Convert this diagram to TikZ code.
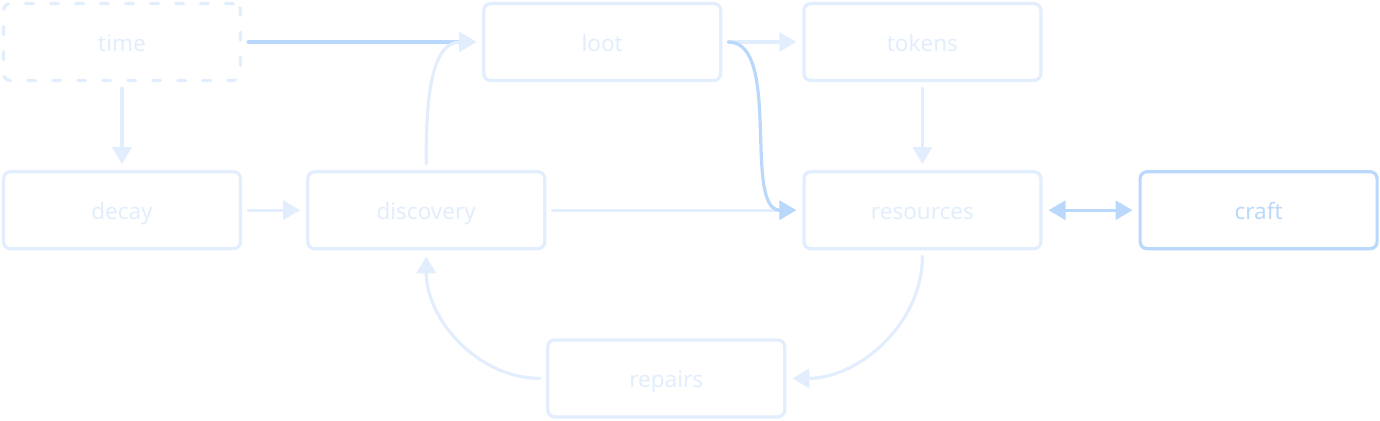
\documentclass[tikz,border=0pt]{standalone}
\usepackage{fontspec}
\setmainfont{Noto Sans}
\usepackage{tikz}
\usetikzlibrary{arrows.meta,positioning}
\definecolor{paleline}{HTML}{E2EEFD}
\definecolor{boldline}{HTML}{BAD8FB}
\tikzset{
  % ---- boxes ----------------------------------------------------------
  mnode/.style={
    draw=paleline, line width=3.2pt, rounded corners=7pt, fill=white,
    minimum width=237pt, minimum height=77pt, align=center,
    text height=19pt, text depth=0pt,
    text=paleline, font=\fontsize{22.5}{26}\selectfont},
  mdashed/.style={mnode, dash pattern=on 8pt off 17pt, line cap=round},
  mstrong/.style={mnode, draw=boldline, text=boldline},
  % ---- connections ----------------------------------------------------
  mflow/.style={
    -{Triangle[length=17pt,width=19pt]}, draw=paleline, line width=3.2pt,
    line cap=round, shorten <=6pt, shorten >=6pt},
  mlink/.style={mflow, draw=boldline},
}
\begin{document}
\begin{tikzpicture}[x=1pt, y=-1pt]
\useasboundingbox (0,0) rectangle (1380,420);

% ---------------- top row --------------------------------------------
\node[mdashed] (time) at (122,42) {time};
\node[mnode, right=240pt of time] (loot) {loot};
\node[mnode, right=80pt of loot] (tokens) {tokens};

% ---------------- middle row -----------------------------------------
\node[mnode, below=88pt of time] (decay) {decay};
\node[mnode, right=64pt of decay] (discovery) {discovery};
\node[mnode, right=256pt of discovery] (resources) {resources};
\node[mstrong, right=96pt of resources] (craft) {craft};

% ---------------- bottom row -----------------------------------------
\node[mnode, below=88pt of discovery, xshift=240pt] (repairs) {repairs};

% ---------------- edges ----------------------------------------------
\draw[mlink] (time) -- (loot);
\draw[mflow] (loot) -- (tokens);
\draw[mflow] (time) -- (decay);
\draw[mflow] (tokens) -- (resources);
\draw[mflow] (decay) -- (discovery);
\draw[mflow] (discovery) -- (resources);
\draw[mflow] (discovery.north) to[out=90, in=180] (loot.west);
\draw[mlink] (loot.east) .. controls +(60,0) and +(-60,0) .. (resources.west);
\draw[mlink, {Triangle[length=17pt,width=19pt]}-{Triangle[length=17pt,width=19pt]}]
  (resources) -- (craft);
\draw[mflow] (resources.south) to[out=-90, in=0] (repairs.east);
\draw[mflow] (repairs.west) to[out=180, in=-90] (discovery.south);

\end{tikzpicture}
\end{document}
